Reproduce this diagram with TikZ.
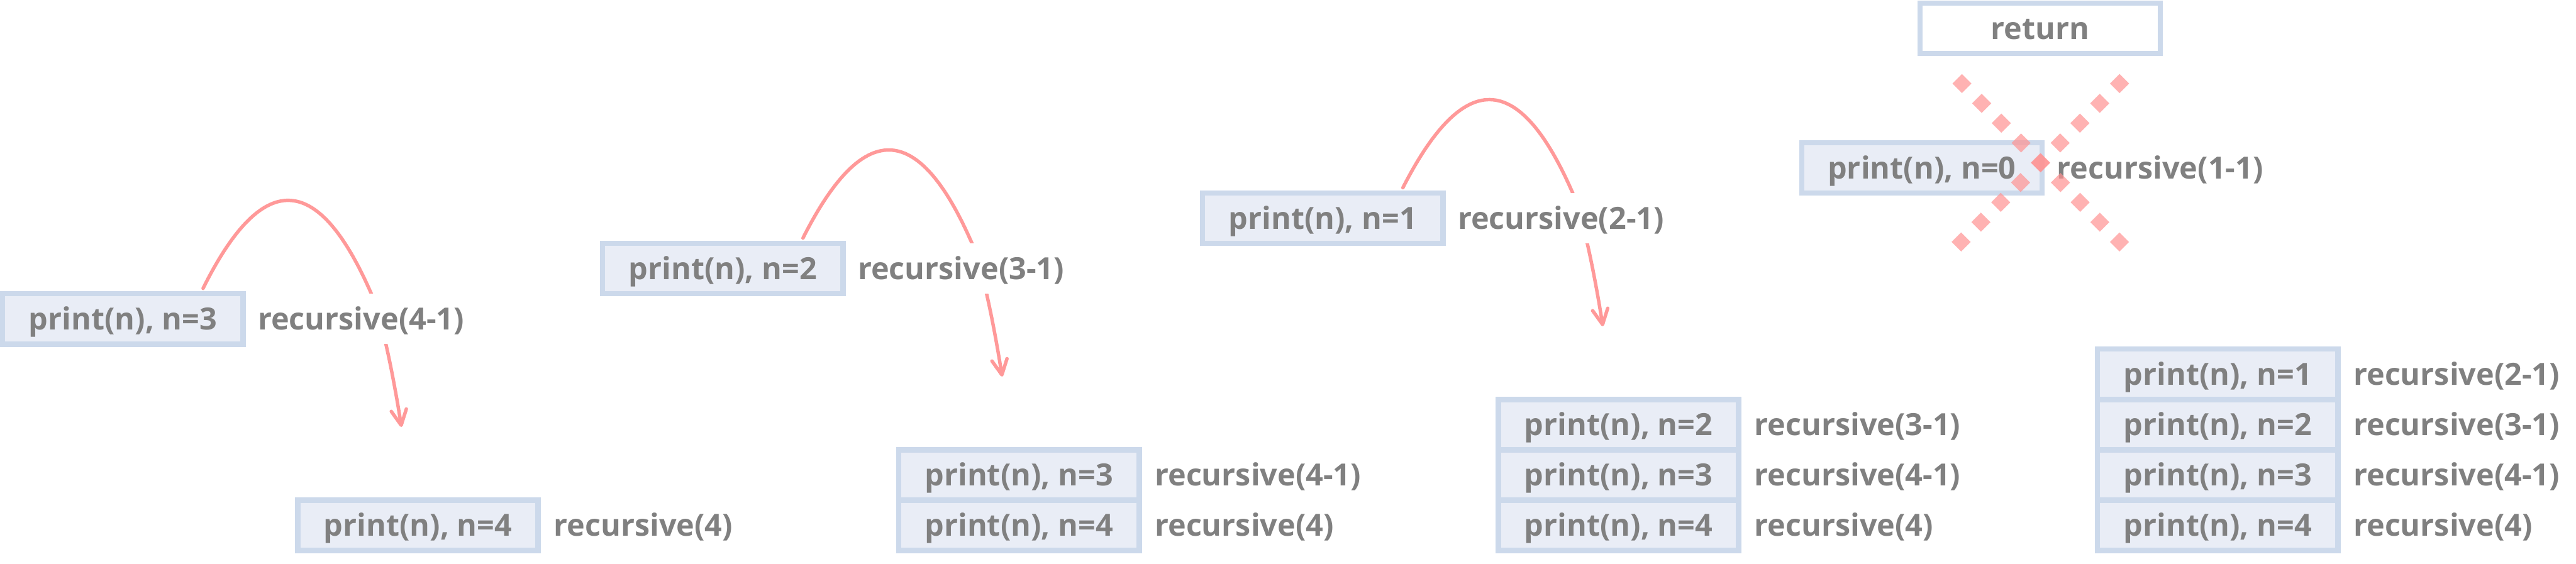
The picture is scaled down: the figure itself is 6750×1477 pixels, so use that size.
\documentclass[tikz,border=0pt]{standalone}
\usepackage{fontspec}
\setmainfont{Open Sans}
\usetikzlibrary{arrows.meta,backgrounds}
\definecolor{cellfill}{HTML}{E9EDF6}
\definecolor{cellborder}{HTML}{CCD9EB}
\definecolor{txtgray}{HTML}{808080}
\definecolor{arccol}{HTML}{FF9999}
\definecolor{xcol}{HTML}{FF9292}
\begin{document}
\begin{tikzpicture}[x=0.2pt,y=-0.2pt,
  txt/.style={font=\fontsize{16pt}{19pt}\selectfont\bfseries, text=txtgray, text height=12.8pt, text depth=1.4pt},
  cell/.style={txt, draw=cellborder, fill=cellfill, line width=2.8pt, minimum width=126pt, minimum height=26.4pt, inner sep=0pt},
  retbox/.style={cell, fill=white},
  lab/.style={txt, anchor=west, fill=white, inner sep=0pt, minimum height=26.4pt},
  recarrow/.style={draw=arccol, line width=1.8pt, line cap=round, -{Straight Barb[length=8pt,width=8pt,round]}},
  xmark/.style={fill=xcol, fill opacity=0.7}
]
\useasboundingbox (0,0) rectangle (6750,1477);

% ---------- group 1 ----------
\node[cell] (A1) at (322,836) {print(n), n=3};
\node[lab] (LA1) at ([xshift=6.2pt]A1.east) {recursive(4-1)};
\node[cell] (B1a) at (1095,1377) {print(n), n=4};
\node[lab] (LB1a) at ([xshift=6.6pt]B1a.east) {recursive(4)};
\coordinate (t1) at (1052,1119);

% ---------- group 2 ----------
\node[cell] (A2) at (1894,704) {print(n), n=2};
\node[lab] (LA2) at ([xshift=6.2pt]A2.east) {recursive(3-1)};
\node[cell] (B2a) at (2670,1377) {print(n), n=4};
\node[cell] (B2b) at (2670,1245) {print(n), n=3};
\node[lab] (LB2a) at ([xshift=6.6pt]B2a.east) {recursive(4)};
\node[lab] (LB2b) at ([xshift=6.6pt]B2b.east) {recursive(4-1)};
\coordinate (t2) at (2626,987);

% ---------- group 3 ----------
\node[cell] (A3) at (3466,572) {print(n), n=1};
\node[lab] (LA3) at ([xshift=6.2pt]A3.east) {recursive(2-1)};
\node[cell] (B3a) at (4241,1377) {print(n), n=4};
\node[cell] (B3b) at (4241,1245) {print(n), n=3};
\node[cell] (B3c) at (4241,1113) {print(n), n=2};
\node[lab] (LB3a) at ([xshift=6.6pt]B3a.east) {recursive(4)};
\node[lab] (LB3b) at ([xshift=6.6pt]B3b.east) {recursive(4-1)};
\node[lab] (LB3c) at ([xshift=6.6pt]B3c.east) {recursive(3-1)};
\coordinate (t3) at (4200,855);

% ---------- group 4 ----------
\node[retbox] (R) at (5346,74) {return};
\node[cell] (A4) at (5036,440) {print(n), n=0};
\node[lab] (LA4) at ([xshift=6.2pt]A4.east) {recursive(1-1)};
\node[cell] (B4a) at (5811,1377) {print(n), n=4};
\node[cell] (B4b) at (5811,1245) {print(n), n=3};
\node[cell] (B4c) at (5811,1113) {print(n), n=2};
\node[cell] (B4d) at (5811,981) {print(n), n=1};
\node[lab] (LB4a) at ([xshift=6.6pt]B4a.east) {recursive(4)};
\node[lab] (LB4b) at ([xshift=6.6pt]B4b.east) {recursive(4-1)};
\node[lab] (LB4c) at ([xshift=6.6pt]B4c.east) {recursive(3-1)};
\node[lab] (LB4d) at ([xshift=6.6pt]B4d.east) {recursive(2-1)};

% ---------- recursion arcs (behind the labels) ----------
\begin{pgfonlayer}{background}
\draw[recarrow] ([xshift=106.4pt,yshift=1.4pt]A1.north west)
  .. controls (686,447) and (830,447) .. (970,763)
  .. controls (995,818) and (1025,950) .. (t1);
\draw[recarrow] ([xshift=106.4pt,yshift=1.4pt]A2.north west)
  .. controls (2260,315) and (2404,315) .. (2544,631)
  .. controls (2569,686) and (2599,818) .. (t2);
\draw[recarrow] ([xshift=106.4pt,yshift=1.4pt]A3.north west)
  .. controls (3834,183) and (3978,183) .. (4118,499)
  .. controls (4143,554) and (4173,686) .. (t3);
\end{pgfonlayer}

% ---------- cross over the n=0 frame ----------
\foreach \i in {0,...,8}{
  \fill[xmark] ({5141+51.6*\i},{219+51.9*\i}) ++(0,-25) -- ++(25,25) -- ++(-25,25) -- ++(-25,-25) -- cycle;
  \fill[xmark] ({5554-51.9*\i},{219+51.9*\i}) ++(0,-25) -- ++(25,25) -- ++(-25,25) -- ++(-25,-25) -- cycle;
}
\end{tikzpicture}
\end{document}
